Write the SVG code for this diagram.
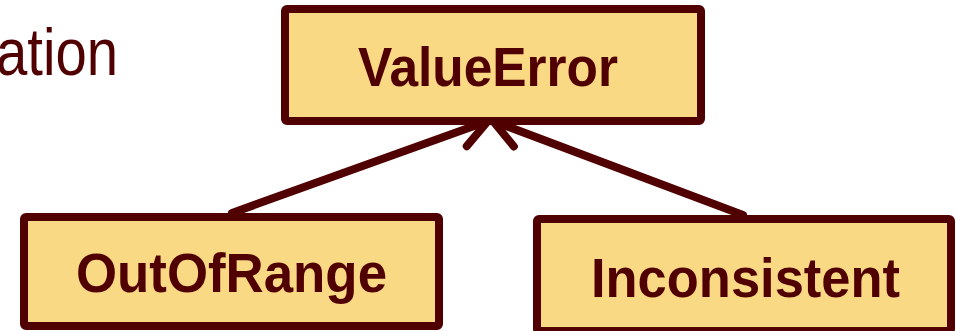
<svg xmlns="http://www.w3.org/2000/svg" width="956" height="331" viewBox="0 0 956 331">
  <style>
    .box { fill: #FAD985; stroke: #500000; stroke-width: 8; stroke-linejoin: round; }
    .label { font-family: "Liberation Sans", Arial, sans-serif; font-weight: bold; font-size: 56px; fill: #500000; text-anchor: middle; }
    .title { font-family: "Liberation Sans", Arial, sans-serif; font-size: 66px; fill: #500000; }
    .edge { fill: none; stroke: #500000; stroke-width: 8; stroke-linecap: round; stroke-linejoin: round; }
  </style>
  <defs>
    <marker id="open-arrow" markerUnits="userSpaceOnUse" markerWidth="50" markerHeight="50" refX="40" refY="25" orient="auto" viewBox="0 0 50 50">
      <path d="M11.5,8.5 L40,25 L11.5,41.5" fill="none" stroke="#500000" stroke-width="8" stroke-linecap="round" stroke-linejoin="round"/>
    </marker>
  </defs>

  <!-- heading text running in from the left edge -->
  <text class="title" x="-4" y="75" textLength="122" lengthAdjust="spacingAndGlyphs">ation</text>

  <g id="connectors">
    <line class="edge" x1="232" y1="213" x2="488" y2="121" marker-end="url(#open-arrow)"/>
    <line class="edge" x1="743" y1="215" x2="493" y2="121" marker-end="url(#open-arrow)"/>
  </g>

  <g id="node-valueerror">
    <rect class="box" x="285" y="9" width="416" height="112" rx="2"/>
    <text class="label" x="488" y="86" textLength="260" lengthAdjust="spacingAndGlyphs">ValueError</text>
  </g>

  <g id="node-outofrange">
    <rect class="box" x="24" y="217" width="415" height="109" rx="2"/>
    <text class="label" x="231.5" y="292" textLength="311" lengthAdjust="spacingAndGlyphs">OutOfRange</text>
  </g>

  <g id="node-inconsistent">
    <rect class="box" x="537" y="219" width="414" height="112" rx="2"/>
    <text class="label" x="745.5" y="297" textLength="309" lengthAdjust="spacingAndGlyphs">Inconsistent</text>
  </g>
</svg>
